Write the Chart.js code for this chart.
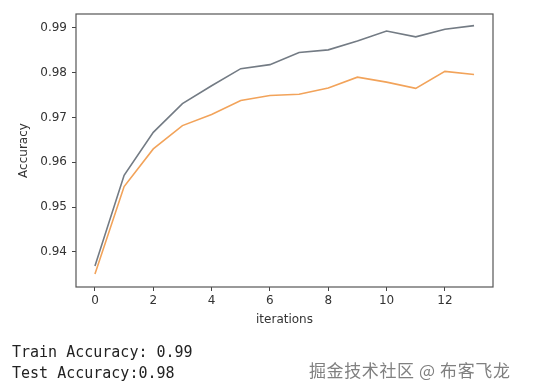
<!DOCTYPE html>
<html>
<head>
<meta charset="utf-8">
<script src="https://cdn.jsdelivr.net/npm/chart.js@4/dist/chart.umd.min.js"></script>
<style>
  html, body { margin: 0; padding: 0; background: #ffffff; }
  #wrap { position: relative; width: 547px; height: 392px; overflow: hidden; }
  #c { position: absolute; left: 0; top: 0; }
  .mono { position: absolute; left: 12px; font-family: "DejaVu Sans Mono", "Liberation Mono", monospace; font-size: 15px; color: #222; white-space: pre; }
  #wm { position: absolute; left: 309px; top: 357px; font-family: "Noto Sans CJK SC", sans-serif; font-size: 17px; letter-spacing: 0.6px; color: #808080; white-space: pre; }
</style>
</head>
<body>
<div id="wrap">
  <canvas id="c" width="547" height="392"></canvas>
  <div class="mono" style="top:343px;">Train Accuracy: 0.99</div>
  <div class="mono" style="top:364px;">Test Accuracy:0.98</div>
  <div id="wm">掘金技术社区 @ 布客飞龙</div>
</div>
<script>
const iterations = [0, 1, 2, 3, 4, 5, 6, 7, 8, 9, 10, 11, 12, 13];
const trainAccuracy = [0.9369, 0.9571, 0.9667, 0.9731, 0.9771, 0.9809, 0.9818, 0.9845, 0.9851, 0.9871, 0.9893, 0.9880, 0.9897, 0.9905];
const testAccuracy = [0.9351, 0.9546, 0.9630, 0.9682, 0.9707, 0.9738, 0.9749, 0.9752, 0.9766, 0.9790, 0.9779, 0.9765, 0.9803, 0.9796];
const xTicks = [0, 2, 4, 6, 8, 10, 12];
const yTicks = [0.94, 0.95, 0.96, 0.97, 0.98, 0.99];

const frame = {
  id: 'frame',
  afterDatasetsDraw(chart) {
    const a = chart.chartArea, ctx = chart.ctx;
    ctx.save();
    ctx.strokeStyle = '#555';
    ctx.lineWidth = 1.2;
    ctx.strokeRect(a.left, a.top, a.right - a.left, a.bottom - a.top);
    ctx.restore();
  }
};

const tickFont = { family: 'DejaVu Sans', size: 12 };
new Chart(document.getElementById('c'), {
  type: 'line',
  data: {
    datasets: [
      { label: 'train', data: iterations.map((x, i) => ({ x, y: trainAccuracy[i] })), borderColor: '#737b84', borderWidth: 1.6, pointRadius: 0, tension: 0, fill: false },
      { label: 'test', data: iterations.map((x, i) => ({ x, y: testAccuracy[i] })), borderColor: '#f2a35a', borderWidth: 1.6, pointRadius: 0, tension: 0, fill: false }
    ]
  },
  options: {
    responsive: false,
    animation: false,
    layout: { padding: { left: 0, right: 54, top: 14, bottom: 63 } },
    plugins: { legend: { display: false }, tooltip: { enabled: false } },
    scales: {
      x: {
        type: 'linear', min: -0.65, max: 13.65,
        afterBuildTicks: s => { s.ticks = xTicks.map(v => ({ value: v })); },
        afterFit: s => { s.height = 42; },
        grid: { drawOnChartArea: false, drawTicks: true, tickLength: 4, tickColor: '#444' },
        border: { display: false },
        ticks: { color: '#333', font: tickFont, padding: 3, maxRotation: 0, callback: v => String(v) },
        title: { display: true, text: 'iterations', color: '#333', font: tickFont, padding: { top: 0, bottom: 2 } }
      },
      y: {
        type: 'linear', min: 0.93219, max: 0.9931,
        afterBuildTicks: s => { s.ticks = yTicks.map(v => ({ value: v })); },
        afterFit: s => { s.width = 76; },
        grid: { drawOnChartArea: false, drawTicks: true, tickLength: 4, tickColor: '#444' },
        border: { display: false },
        ticks: { color: '#333', font: tickFont, padding: 5, callback: v => v.toFixed(2) },
        title: { display: true, text: 'Accuracy', color: '#333', font: tickFont, padding: { top: 17, bottom: 0 } }
      }
    }
  },
  plugins: [frame]
});
</script>
</body>
</html>
